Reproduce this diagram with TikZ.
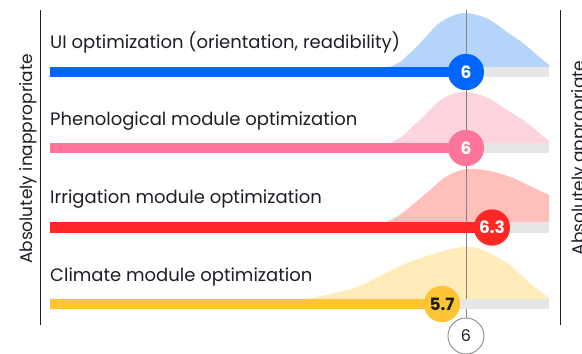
\documentclass[tikz,border=0pt]{standalone}
\usepackage{fontspec}
\setmainfont{Poppins}
\begin{document}
\begin{tikzpicture}[x=1pt,y=-1pt,
  lbl/.style={anchor=base west,inner sep=0pt,text=txtC,font=\fontsize{18}{19}\selectfont},
  axlbl/.style={rotate=90,anchor=base,inner sep=0pt,text=txtC,font=\fontsize{17}{18}\selectfont},
  circ/.style={circle,minimum size=36pt,inner sep=0pt,font=\bfseries\fontsize{17}{18}\selectfont},
  barln/.style={line width=10.5pt,line cap=butt},
  trackln/.style={line width=10.5pt,line cap=butt,draw=trackC},
  axisln/.style={line width=1pt,draw=txtC},
  medln/.style={line width=0.8pt,draw=medC}]
\definecolor{txtC}{RGB}{30,30,38}
\definecolor{medC}{RGB}{130,130,135}
\definecolor{trackC}{RGB}{230,230,230}
\definecolor{blueC}{RGB}{0,102,255}
\definecolor{blueL}{RGB}{180,212,250}
\definecolor{pinkC}{RGB}{255,117,153}
\definecolor{pinkL}{RGB}{253,212,222}
\definecolor{redC}{RGB}{255,38,38}
\definecolor{redL}{RGB}{255,192,188}
\definecolor{yelC}{RGB}{255,196,51}
\definecolor{yelL}{RGB}{255,236,186}
\useasboundingbox (0,0) rectangle (582,354);
\fill[white] (0,0) rectangle (582,354);

% distributions
\fill[blueL] plot[smooth,tension=0.55] coordinates {(390,67) (400,62) (410,53) (423,40) (437,25) (450,17) (463,13) (477,15) (490,20) (507,32) (523,43) (537,55) (549,65)} -- (549,67) -- cycle;
\fill[pinkL] plot[smooth,tension=0.55] coordinates {(390,143) (400,138) (410,129) (423,117) (437,103) (450,95) (464,92) (477,94) (490,99) (507,110) (523,120) (537,131) (549,141)} -- (549,143) -- cycle;
\fill[redL] plot[smooth,tension=0.55] coordinates {(386,222) (398,216) (410,207) (430,190) (447,176) (467,169) (490,171) (513,178) (530,186) (549,195)} -- (549,222) -- cycle;
\fill[yelL] plot[smooth,tension=0.55] coordinates {(308,299) (330,294) (357,287) (380,276) (407,263) (440,252) (463,247) (480,249) (497,257) (510,265) (523,277) (537,289) (549,298)} -- (549,299) -- cycle;

% axes
\coordinate (laxt) at (40,10);
\coordinate (laxb) at (40,325);
\coordinate (raxt) at (560,10);
\coordinate (raxb) at (560,325);
\draw[axisln] (laxt) -- (laxb);
\draw[axisln] (raxt) -- (raxb);
\node[axlbl] (lal) at (32,159) {Absolutely inappropriate};
\node[axlbl] (ral) at (584,158) {Absolutely appropriate};

% median line and bottom marker
\node[circ,draw=medC,line width=0.8pt,fill=white,font=\fontsize{16}{17}\selectfont,text=txtC] (med) at (466,336) {6};
\coordinate (medt) at (466,10);
\draw[medln] (medt) -- (med.north);

% labels
\node[lbl] (l1) at (50,48) {UI optimization (orientation, readibility)};
\node[lbl] (l2) at (50,125) {Phenological module optimization};
\node[lbl] (l3) at (50,203) {Irrigation module optimization};
\node[lbl] (l4) at (50,281) {Climate module optimization};

% row 1
\coordinate (s1) at (50,72);
\coordinate (e1) at (549,72);
\node[circ,fill=blueC,text=white] (c1) at (466,72) {6};
\draw[trackln] (c1.center) -- (e1);
\draw[barln,draw=blueC] (s1) -- (c1.center);
\node[circ,fill=blueC,text=white] at (c1) {6};

% row 2
\coordinate (s2) at (50,148);
\coordinate (e2) at (549,148);
\node[circ,fill=pinkC,text=white] (c2) at (466,148) {6};
\draw[trackln] (c2.center) -- (e2);
\draw[barln,draw=pinkC] (s2) -- (c2.center);
\node[circ,fill=pinkC,text=white] at (c2) {6};

% row 3
\coordinate (s3) at (50,227.5);
\coordinate (e3) at (549,227.5);
\node[circ,fill=redC,text=white] (c3) at (492,227.5) {6.3};
\draw[trackln] (c3.center) -- (e3);
\draw[barln,draw=redC] (s3) -- (c3.center);
\node[circ,fill=redC,text=white] at (c3) {6.3};

% row 4
\coordinate (s4) at (50,304);
\coordinate (e4) at (549,304);
\node[circ,fill=yelC,text=txtC] (c4) at (442,304) {5.7};
\draw[trackln] (c4.center) -- (e4);
\draw[barln,draw=yelC] (s4) -- (c4.center);
\node[circ,fill=yelC,text=txtC] at (c4) {5.7};
\end{tikzpicture}
\end{document}
